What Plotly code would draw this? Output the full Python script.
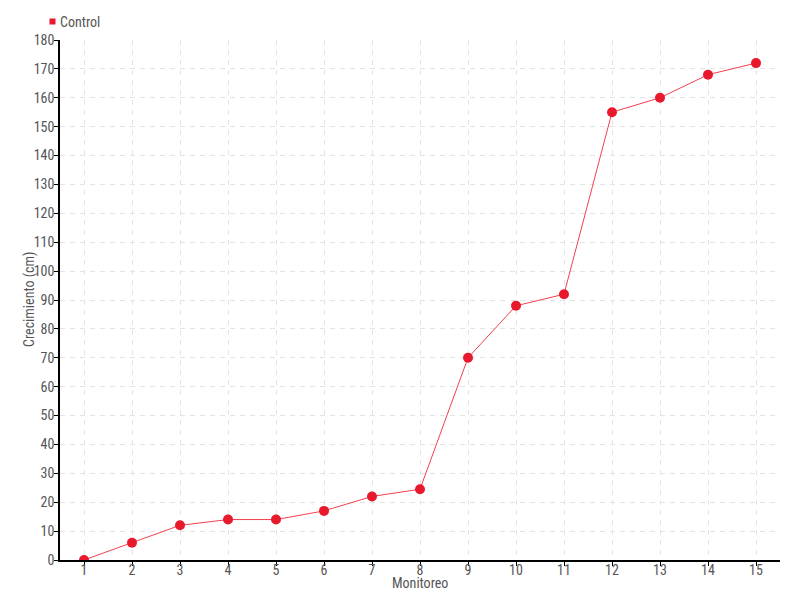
import plotly.graph_objects as go

monitoreo = list(range(1, 16))
control = [0, 6, 12, 14, 14, 17, 22, 24.5, 70, 88, 92, 155, 160, 168, 172]
y_ticks = list(range(0, 181, 10))

font_family = "Roboto Condensed, Liberation Sans Narrow, sans-serif"
text_color = "#555555"
red = "#e8192c"

# page body adds an 8px offset; margins compensate so plot area sits at 60..780 x 40..560
OFF = 8
L, R, T, B = 60 - OFF, 20 + OFF, 40 - OFF, 40 + OFF
W, H = 800, 600
PW, PH = W - L - R, H - T - B


def px(xs):
    return (xs - OFF - L) / PW


def py(ys):
    return (H - B - (ys - OFF)) / PH


fig = go.Figure()
fig.add_trace(go.Scatter(
    x=monitoreo, y=control, mode="lines+markers", name="Control",
    line=dict(color="#f2404e", width=1),
    marker=dict(color=red, size=10, symbol="circle"),
    showlegend=False,
))

# legend-like key
fig.add_shape(type="rect", xref="paper", yref="paper",
              x0=px(49.5), x1=px(55.5), y0=py(24.5), y1=py(18.5),
              fillcolor=red, line=dict(width=0))
fig.add_annotation(text="Control", xref="paper", yref="paper",
                   x=px(58), y=py(22), xanchor="left", yanchor="middle",
                   showarrow=False, font=dict(family=font_family, size=14, color=text_color))
fig.add_annotation(text="Monitoreo", xref="paper", yref="paper",
                   x=px(420), y=py(583), xanchor="center", yanchor="middle",
                   showarrow=False, font=dict(family=font_family, size=14, color=text_color))
fig.add_annotation(text="Crecimiento (cm)", xref="paper", yref="paper",
                   x=px(29), y=py(299), xanchor="center", yanchor="middle", textangle=-90,
                   showarrow=False, font=dict(family=font_family, size=14, color=text_color))

axis_common = dict(
    showline=True, linecolor="black", linewidth=1.5,
    ticks="outside", ticklen=4, tickcolor="black", tickwidth=1,
    showgrid=True, gridcolor="#e3e3e3", griddash="5px,5px", gridwidth=1,
    zeroline=False, automargin=False,
    tickfont=dict(family=font_family, size=14, color=text_color),
)

fig.update_layout(
    width=W, height=H,
    margin=dict(l=L, r=R, t=T, b=B, autoexpand=False),
    plot_bgcolor="white", paper_bgcolor="white",
    font=dict(family=font_family, size=14, color=text_color),
    showlegend=False,
    xaxis=dict(range=[0.5, 15.5], tickmode="array", tickvals=monitoreo,
               ticklabelstandoff=-8, **axis_common),
    yaxis=dict(range=[0, 180], tickmode="array", tickvals=y_ticks,
               ticklabelstandoff=-3, **axis_common),
)

fig.write_html("out.html")
